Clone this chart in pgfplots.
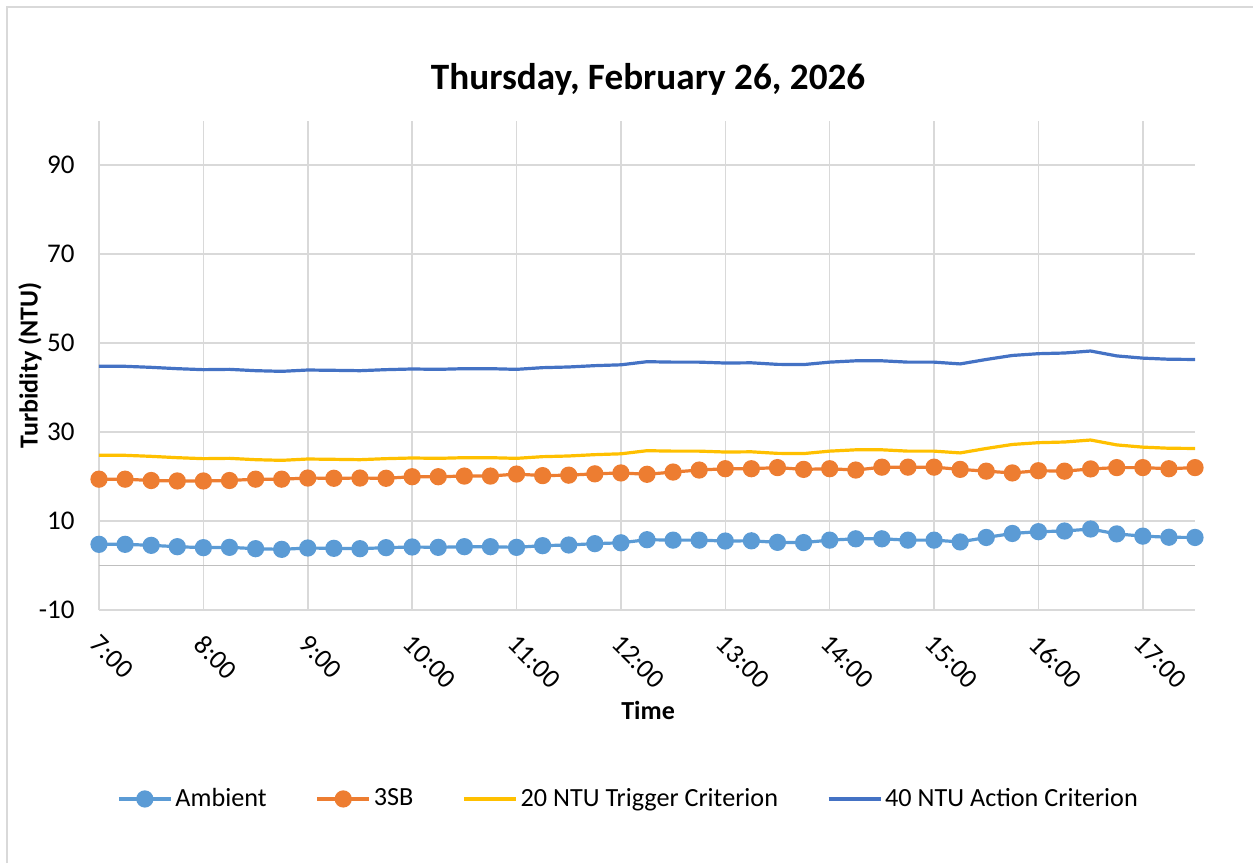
\documentclass[border=0pt]{standalone}
\usepackage{fontspec}
\setmainfont{Carlito}
\usepackage{pgfplots}
\pgfplotsset{compat=1.18}
\usepackage{pgfplotstable}
\definecolor{amb}{HTML}{5B9BD5}
\definecolor{sb}{HTML}{ED7D31}
\definecolor{trig}{HTML}{FFC000}
\definecolor{act}{HTML}{4472C4}
\definecolor{gridc}{HTML}{D9D9D9}
\definecolor{zeroc}{HTML}{BFBFBF}

\pgfplotstableread{
t     amb   sb     trig   act
7.00  4.76  19.40  24.76  44.76
7.25  4.76  19.40  24.76  44.76
7.50  4.53  19.10  24.53  44.53
7.75  4.23  19.00  24.23  44.23
8.00  4.01  19.00  24.01  44.01
8.25  4.08  19.10  24.08  44.08
8.50  3.78  19.40  23.78  43.78
8.75  3.63  19.40  23.63  43.63
9.00  3.93  19.65  23.93  43.93
9.25  3.86  19.60  23.86  43.86
9.50  3.78  19.65  23.78  43.78
9.75  4.01  19.60  24.01  44.01
10.00 4.16  19.95  24.16  44.16
10.25 4.08  19.95  24.08  44.08
10.50 4.23  20.10  24.23  44.23
10.75 4.23  20.10  24.23  44.23
11.00 4.08  20.55  24.08  44.08
11.25 4.46  20.20  24.46  44.46
11.50 4.61  20.30  24.61  44.61
11.75 4.91  20.60  24.91  44.91
12.00 5.10  20.80  25.10  45.10
12.25 5.80  20.50  25.80  45.80
12.50 5.70  21.00  25.70  45.70
12.75 5.70  21.45  25.70  45.70
13.00 5.50  21.75  25.50  45.50
13.25 5.55  21.75  25.55  45.55
13.50 5.20  22.00  25.20  45.20
13.75 5.15  21.60  25.15  45.15
14.00 5.70  21.75  25.70  45.70
14.25 6.00  21.45  26.00  46.00
14.50 6.00  22.10  26.00  46.00
14.75 5.70  22.10  25.70  45.70
15.00 5.70  22.10  25.70  45.70
15.25 5.30  21.60  25.30  45.30
15.50 6.30  21.20  26.30  46.30
15.75 7.20  20.80  27.20  47.20
16.00 7.60  21.30  27.60  47.60
16.25 7.75  21.20  27.75  47.75
16.50 8.20  21.70  28.20  48.20
16.75 7.10  22.00  27.10  47.10
17.00 6.60  22.00  26.60  46.60
17.25 6.35  21.75  26.35  46.35
17.50 6.30  22.00  26.30  46.30
}\data

\begin{document}
\begin{tikzpicture}
\useasboundingbox (-49.5pt,-126.5pt) rectangle (577pt,305pt);
\draw[color=gridc, line width=1pt] (-46pt,-126.5pt) -- (-46pt,301.5pt) -- (577pt,301.5pt);
\begin{axis}[
  at={(0,0)}, anchor=south west,
  scale only axis, width=548pt, height=244.75pt,
  xmin=7, xmax=17.5, ymin=-10, ymax=100,
  clip=false,
  axis line style={draw=none},
  major tick length=0pt,
  /pgf/number format/assume math mode=true,
  xtick={7,8,9,10,11,12,13,14,15,16,17},
  xticklabels={7:00,8:00,9:00,10:00,11:00,12:00,13:00,14:00,15:00,16:00,17:00},
  ytick={-10,10,30,50,70,90},
  grid=major,
  major grid style={color=gridc, line width=0.75pt},
  extra y ticks={0},
  extra y tick labels={},
  extra y tick style={grid=major, major grid style={color=zeroc, line width=0.9pt}},
  tick label style={font=\fontsize{13.5}{16}\selectfont},
  yticklabel style={inner sep=0pt, xshift=-12pt},
  xticklabel style={xshift=1pt, yshift=-11.5pt, rotate=-45, anchor=north west, inner sep=0pt},
  title={Thursday, February 26, 2026},
  title style={font=\bfseries\fontsize{18.6}{22}\selectfont, at={(axis description cs:0.501,1.06)}, anchor=center},
  xlabel={Time},
  xlabel style={font=\bfseries\fontsize{13}{15}\selectfont, at={(axis description cs:0.501,-0.2043)}, anchor=center},
  ylabel={Turbidity (NTU)},
  ylabel style={font=\bfseries\fontsize{13}{15}\selectfont, at={(axis description cs:-0.063,0.5)}, anchor=center, rotate=0},
  legend columns=4,
  legend style={at={(axis description cs:0.4836,-0.386)}, anchor=center, draw=none,
    font=\fontsize{13.1}{15}\selectfont,
    /tikz/every even column/.append style={column sep=23pt},
    nodes={inner sep=1.5pt}},
  legend image code/.code={\draw[mark repeat=2,mark phase=2,#1] plot coordinates {(0pt,0pt) (13pt,0pt) (26pt,0pt)};},
]
\addplot[color=amb, line width=1.6pt, mark=*, mark size=3.5pt, mark options={solid, fill=amb, draw=amb}] table[x=t, y=amb] {\data};
\addlegendentry{Ambient}
\addplot[color=sb, line width=1.6pt, mark=*, mark size=3.5pt, mark options={solid, fill=sb, draw=sb}] table[x=t, y=sb] {\data};
\addlegendentry{3SB}
\addplot[color=trig, line width=1.6pt, no marks] table[x=t, y=trig] {\data};
\addlegendentry{20 NTU Trigger Criterion}
\addplot[color=act, line width=1.6pt, no marks] table[x=t, y=act] {\data};
\addlegendentry{40 NTU Action Criterion}
\end{axis}
\end{tikzpicture}
\end{document}
